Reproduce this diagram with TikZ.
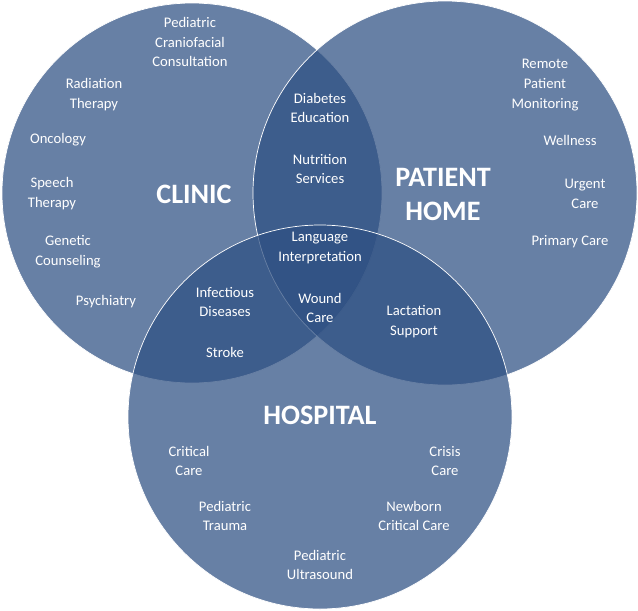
\documentclass[tikz,border=0pt]{standalone}
\usepackage{fontspec}
\setmainfont{Carlito}
\usepackage{tikz}
\usetikzlibrary{positioning}
\definecolor{vennblue}{RGB}{45,79,130}
\tikzset{
  setcircle/.style={fill=vennblue, fill opacity=0.72, draw=white, line width=0.6pt},
  item/.style={text=white, align=center, font=\fontsize{12.5}{17}\selectfont},
  settitle/.style={text=white, align=center, font=\fontsize{24}{29}\selectfont\bfseries},
}
\begin{document}
\begin{tikzpicture}[x=0.03cm, y=-0.03cm]
  \useasboundingbox (0,0) rectangle (638,610);
  % circles
  \fill[setcircle] (192,193) circle (190);
  \fill[setcircle] (445,193) circle (192);
  \fill[setcircle] (320,417) circle (192);
  % clinic
  \node[item] (craniofacial) at (190,42) {Pediatric\\Craniofacial\\Consultation};
  \node[item] (radiation) at (94,95) {Radiation\\Therapy};
  \node[item] (oncology) at (58,140) {Oncology};
  \node[item] (speech) at (52,194) {Speech\\Therapy};
  \node[item] (genetic) at (68,252) {Genetic\\Counseling};
  \node[item] (psychiatry) at (106,302) {Psychiatry};
  \node[settitle] (clinic) at (194,194) {CLINIC};
  % overlaps
  \node[item] (diabetes) at (320,108) {Diabetes\\Education};
  \node[item] (nutrition) at (320,169) {Nutrition\\Services};
  \node[item] (language) at (320,248) {Language\\Interpretation};
  \node[item] (infectious) at (225,302) {Infectious\\Diseases};
  \node[item] (wound) at (320,308) {Wound\\Care};
  \node[item] (stroke) at (225,352) {Stroke};
  \node[item] (lactation) at (414,322) {Lactation\\Support};
  % patient home
  \node[item] (remote) at (545,85) {Remote\\Patient\\Monitoring};
  \node[item] (wellness) at (570,140) {Wellness};
  \node[item] (urgent) at (585,194) {Urgent\\Care};
  \node[item] (primary) at (570,242) {Primary Care};
  \node[settitle] (home) at (443,194) {PATIENT\\HOME};
  % hospital
  \node[settitle] (hospital) at (320,415) {HOSPITAL};
  \node[item] (critical) at (189,461) {Critical\\Care};
  \node[item] (crisis) at (445,461) {Crisis\\Care};
  \node[item] (trauma) at (225,516) {Pediatric\\Trauma};
  \node[item] (newborn) at (414,516) {Newborn\\Critical Care};
  \node[item] (ultrasound) at (320,565) {Pediatric\\Ultrasound};
\end{tikzpicture}
\end{document}
